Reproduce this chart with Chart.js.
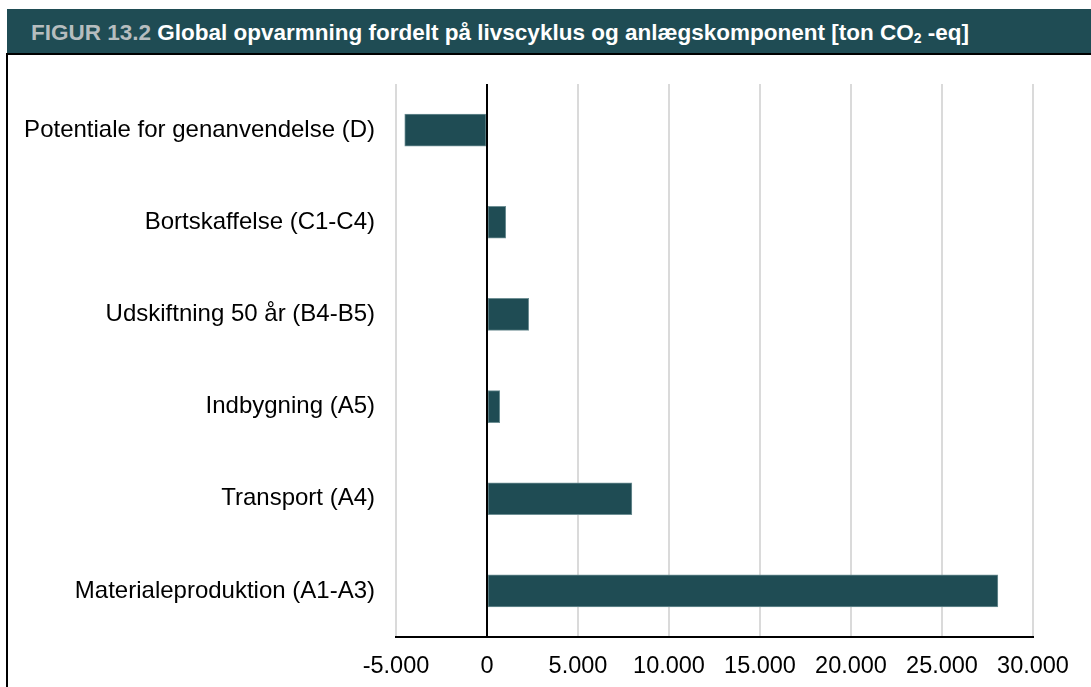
<!DOCTYPE html>
<html lang="da">
<head>
<meta charset="utf-8">
<title>Global opvarmning fordelt på livscyklus</title>
<script src="https://cdn.jsdelivr.net/npm/chart.js@4.4.1/dist/chart.umd.min.js"></script>
<style>
  html, body { margin: 0; padding: 0; background: #fff; }
  body { width: 1091px; height: 687px; position: relative; overflow: hidden; font-family: "Liberation Sans", Arial, sans-serif; }
  #header {
    position: absolute; left: 7px; top: 9px; width: 1084px; height: 44px;
    background: #1f4c54; color: #fff; font-weight: bold; font-size: 22.5px;
    line-height: 44px; padding-top: 2px; box-sizing: border-box; padding-left: 24px;
    white-space: nowrap;
  }
  #header .fig { color: #b6bdbf; }
  #header sub { font-size: 14px; vertical-align: -3px; line-height: 0; }
  #frame {
    position: absolute; left: 6px; top: 53px; width: 1200px; height: 700px;
    border-left: 2px solid #000; border-top: 2px solid #000;
  }
  #wrap { position: absolute; left: 7px; top: 54px; width: 1084px; height: 633px; }
</style>
</head>
<body>
<div id="header"><span class="fig">FIGUR 13.2</span> Global opvarmning fordelt på livscyklus og anlægskomponent [ton CO<sub>2</sub> -eq]</div>
<div id="frame"></div>
<div id="wrap"><canvas id="chart"></canvas></div>
<script>
// life cycle stages, top to bottom
const stages = [
    'Potentiale for genanvendelse (D)',
    'Bortskaffelse (C1-C4)',
    'Udskiftning 50 år (B4-B5)',
    'Indbygning (A5)',
    'Transport (A4)',
    'Materialeproduktion (A1-A3)'
];
// ton CO2-eq per stage
const co2Values = [-4520, 1030, 2290, 700, 7960, 28070];

const axisMin = -5000;
const axisMax = 30000;
const axisStep = 5000;

const barColor = '#1f4c54';
const gridColor = '#dadada';

// danish thousands separator: 25000 -> 25.000
function formatDa(v) {
    const neg = v < 0;
    const s = String(Math.abs(v)).replace(/\B(?=(\d{3})+(?!\d))/g, '.');
    return (neg ? '-' : '') + s;
}

// black line where the value axis crosses zero, drawn over the bars
const zeroLine = {
    id: 'zeroLine',
    afterDatasetsDraw(chart) {
        const x = chart.scales.x.getPixelForValue(0);
        const area = chart.chartArea;
        const ctx = chart.ctx;
        ctx.save();
        ctx.strokeStyle = '#000';
        ctx.lineWidth = 2;
        ctx.beginPath();
        ctx.moveTo(x, area.top);
        ctx.lineTo(x, area.bottom);
        ctx.stroke();
        ctx.restore();
    }
};

const ctx = document.getElementById('chart').getContext('2d');
new Chart(ctx, {
    type: 'bar',
    data: {
        labels: stages,
        datasets: [{
            data: co2Values,
            backgroundColor: barColor,
            borderColor: '#6e8f94',
            borderWidth: 1,
            borderSkipped: false,
            barThickness: 32
        }]
    },
    options: {
        indexAxis: 'y',
        responsive: true,
        maintainAspectRatio: false,
        animation: false,
        layout: { padding: { top: 30, right: 58, left: 0, bottom: 0 } },
        plugins: {
            legend: { display: false },
            tooltip: { enabled: false }
        },
        scales: {
            x: {
                min: axisMin,
                max: axisMax,
                ticks: {
                    stepSize: axisStep,
                    color: '#000',
                    padding: 15,
                    maxRotation: 0,
                    font: { family: '"Liberation Sans", Arial, sans-serif', size: 23.5 },
                    callback: (v) => formatDa(v)
                },
                grid: {
                    color: (c) => c.tick && c.tick.value === 0 ? 'rgba(0,0,0,0)' : gridColor,
                    lineWidth: 2,
                    drawTicks: false
                },
                border: { display: true, color: '#000', width: 2 },
                afterFit: (s) => { s.height = 50; }
            },
            y: {
                ticks: {
                    color: '#000',
                    padding: 21,
                    font: { family: '"Liberation Sans", Arial, sans-serif', size: 24 }
                },
                grid: { display: false, drawTicks: false },
                border: { display: false },
                afterFit: (s) => {
                    s.width = 389;
                    // keep the label padding from pushing the plot area down
                    s.paddingTop = 0;
                    s.paddingBottom = 0;
                }
            }
        }
    },
    plugins: [zeroLine]
});
</script>
</body>
</html>
